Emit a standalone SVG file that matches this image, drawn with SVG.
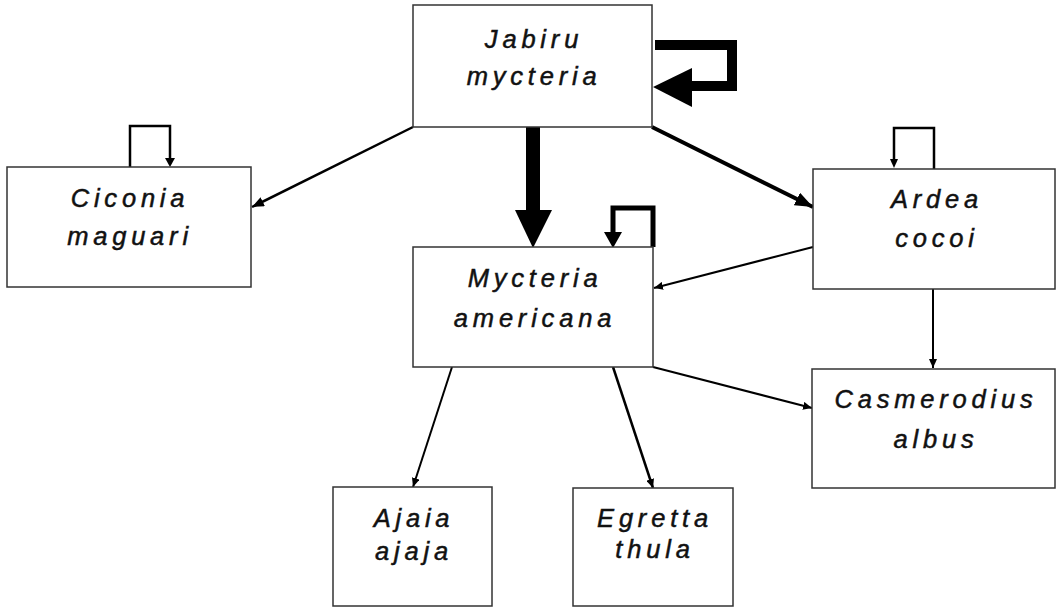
<svg xmlns="http://www.w3.org/2000/svg" width="1058" height="608" viewBox="0 0 1058 608">
<defs>
<style>
.box{fill:#fff;stroke:#333;stroke-width:1.5}
.lbl{font-family:"Liberation Sans",Arial,sans-serif;font-style:italic;font-size:25.5px;letter-spacing:4.8px;fill:#111;stroke:#111;stroke-width:0.5px;text-anchor:middle}
.ln{fill:none;stroke:#000;stroke-linejoin:miter}
.hd{fill:#000}
</style>
<marker id="ah" markerUnits="userSpaceOnUse" markerWidth="12" markerHeight="10" viewBox="0 0 12 10" refX="12" refY="5" orient="auto">
<path d="M0,0 L12,5 L0,10 Z" fill="#000"/>
</marker>
<marker id="ahs" markerUnits="userSpaceOnUse" markerWidth="9" markerHeight="8" viewBox="0 0 9 8" refX="9" refY="4" orient="auto">
<path d="M0,0 L9,4 L0,8 Z" fill="#000"/>
</marker>
<marker id="ahb" markerUnits="userSpaceOnUse" markerWidth="18" markerHeight="14" viewBox="0 0 18 14" refX="18" refY="7" orient="auto">
<path d="M0,0 L18,7 L0,14 Z" fill="#000"/>
</marker>
</defs>
<rect width="1058" height="608" fill="#fff"/>

<g id="connectors">
<path class="ln" d="M655,45 H732 V86 H690" stroke-width="10"/>
<polygon class="hd" points="653,87 692,68 692,107"/>
<path class="ln" d="M533,126 V212" stroke-width="14"/>
<polygon class="hd" points="515,210 552,210 533,248"/>
<path class="ln" d="M413,127 L252,207" stroke-width="2.5" marker-end="url(#ah)"/>
<path class="ln" d="M652,127 L813,207" stroke-width="4" marker-end="url(#ahb)"/>
<path class="ln" d="M130,167 V126 H170 V160" stroke-width="2.5"/>
<polygon class="hd" points="165,158 175,158 170,167"/>
<path class="ln" d="M653,247 V208 H613 V235" stroke-width="5"/>
<polygon class="hd" points="604,232 622,232 613,248"/>
<path class="ln" d="M934,169 V128 H894 V160" stroke-width="2.5"/>
<polygon class="hd" points="890,159 898,159 894,168"/>
<path class="ln" d="M813,247 L654,288" stroke-width="2" marker-end="url(#ahs)"/>
<path class="ln" d="M933,289 L933,368" stroke-width="2" marker-end="url(#ahs)"/>
<path class="ln" d="M653,367 L812,408" stroke-width="2" marker-end="url(#ahs)"/>
<path class="ln" d="M452,367 L413,487" stroke-width="2" marker-end="url(#ahs)"/>
<path class="ln" d="M613,367 L653,488" stroke-width="2.5" marker-end="url(#ahs)"/>
</g>

<g id="jabiru">
<rect class="box" x="413" y="5" width="239" height="122"/>
<text class="lbl" x="534" y="48">Jabiru</text>
<text class="lbl" x="534" y="85">mycteria</text>
</g>
<g id="ciconia">
<rect class="box" x="7" y="167" width="244" height="120"/>
<text class="lbl" x="130" y="207">Ciconia</text>
<text class="lbl" x="130" y="245">maguari</text>
</g>
<g id="mycteria">
<rect class="box" x="413" y="247" width="240" height="120"/>
<text class="lbl" x="535" y="287">Mycteria</text>
<text class="lbl" x="535" y="327">americana</text>
</g>
<g id="ardea">
<rect class="box" x="813" y="169" width="242" height="120"/>
<text class="lbl" x="937" y="208">Ardea</text>
<text class="lbl" x="937" y="247">cocoi</text>
</g>
<g id="casmerodius">
<rect class="box" x="812" y="369" width="243" height="119"/>
<text class="lbl" x="936" y="408">Casmerodius</text>
<text class="lbl" x="936" y="448">albus</text>
</g>
<g id="ajaia">
<rect class="box" x="333" y="487" width="159" height="119"/>
<text class="lbl" x="414" y="527">Ajaia</text>
<text class="lbl" x="414" y="560">ajaja</text>
</g>
<g id="egretta">
<rect class="box" x="573" y="488" width="160" height="118"/>
<text class="lbl" x="655" y="527">Egretta</text>
<text class="lbl" x="655" y="558">thula</text>
</g>
</svg>
